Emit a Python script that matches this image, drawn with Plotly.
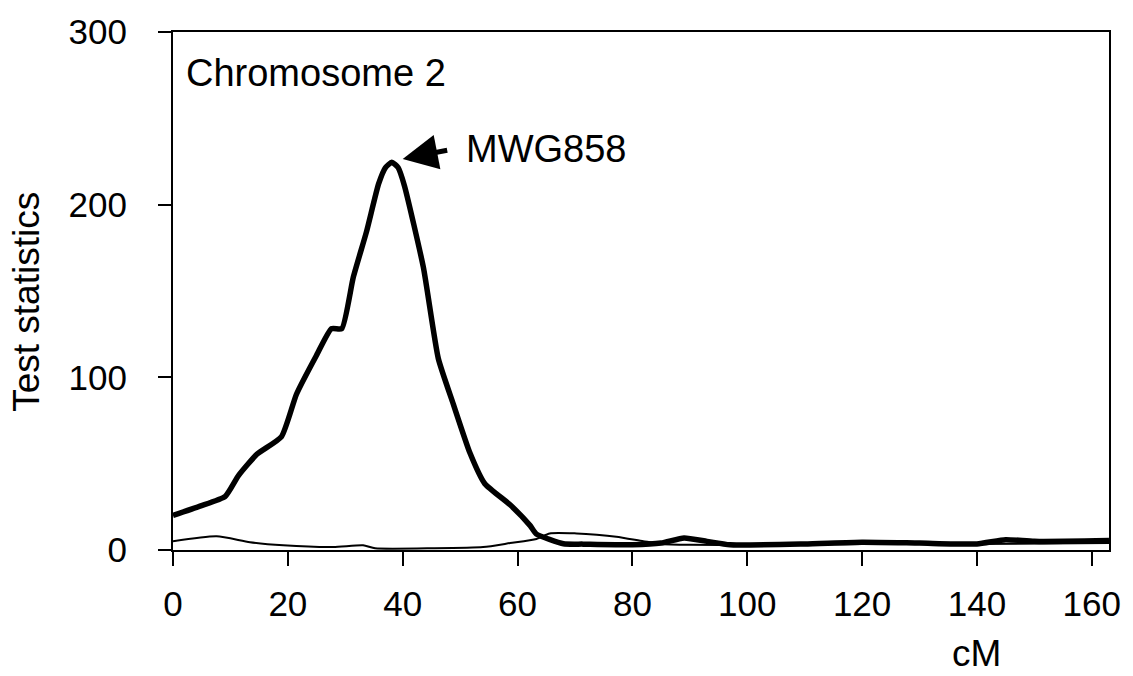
import plotly.graph_objects as go

# Thick curve (main test statistic)
cm_thick = [0, 4.7, 9.1, 11.4, 14.6, 18.9, 21.5, 25.0, 27.6, 29.4, 31.4, 33.7, 35.8, 37.0, 38.1, 39.2,
            40.3, 43.6, 46.2, 48.8, 51.7, 54.3, 58.7, 62.2, 63.3, 68.0, 71.4, 80, 85, 89, 93, 97,
            110, 120, 130, 140, 145, 150, 163]
ts_thick = [20, 25.4, 31.1, 43.1, 55.4, 65.7, 90.2, 112.8, 128.2, 128.2, 158, 184.4, 212, 221.5, 224.5, 221.5,
            211, 163.7, 110.9, 84.6, 56.3, 38.4, 26.2, 14.1, 9.2, 3.6, 3.4, 3, 4, 7, 5, 3,
            3.5, 4.5, 4, 3.5, 6, 5, 5.5]

# Thin curve
cm_thin = [0, 7.6, 13.4, 19.2, 27.9, 33.1, 35.2, 45.3, 54.0, 58.7, 63.3, 65.6, 70.3, 73.8, 77.2, 81.9,
           85, 90, 100, 120, 140, 163]
ts_thin = [5.1, 7.9, 4.5, 2.7, 1.7, 2.7, 1, 1, 1.7, 4, 6.4, 9.6, 9.6, 8.9, 7.7, 5.1,
           3.5, 3, 3, 3.5, 3.5, 4]

x_ticks = [0, 20, 40, 60, 80, 100, 120, 140, 160]
y_ticks = [0, 100, 200, 300]

FONT = "Arial, Liberation Sans, sans-serif"

fig = go.Figure()
fig.add_trace(go.Scatter(x=cm_thin, y=ts_thin, mode="lines",
                         line=dict(color="black", width=2, shape="spline", smoothing=0.6),
                         showlegend=False, hoverinfo="skip"))
fig.add_trace(go.Scatter(x=cm_thick, y=ts_thick, mode="lines",
                         line=dict(color="black", width=5.5, shape="spline", smoothing=0.5),
                         showlegend=False, hoverinfo="skip"))

fig.update_layout(
    width=1133, height=676,
    margin=dict(l=173, r=23, t=22, b=126),
    paper_bgcolor="white", plot_bgcolor="white",
    font=dict(family=FONT, size=35, color="black"),
    xaxis=dict(range=[0, 163], tickvals=x_ticks, ticktext=[str(v) for v in x_ticks],
               showgrid=False, zeroline=False, showline=True, linecolor="black", linewidth=2,
               mirror=True, ticks="outside", ticklen=14, tickwidth=2, tickcolor="black",
               ticklabelstandoff=8, tickfont=dict(size=35, family=FONT)),
    yaxis=dict(range=[0, 300], tickvals=y_ticks, ticktext=[str(v) for v in y_ticks],
               showgrid=False, zeroline=False, showline=True, linecolor="black", linewidth=2,
               mirror=True, ticks="outside", ticklen=13, tickwidth=2, tickcolor="black",
               ticklabelstandoff=24, tickfont=dict(size=35, family=FONT)),
    showlegend=False,
)

# Y title
fig.add_annotation(text="Test statistics", xref="paper", yref="paper", x=-0.156, y=0.479,
                   textangle=-90, showarrow=False, font=dict(size=37, family=FONT),
                   xanchor="center", yanchor="middle")
# x title
fig.add_annotation(text="cM", xref="x", yref="paper", x=140, y=-0.2, showarrow=False,
                   font=dict(size=37, family=FONT), xanchor="center", yanchor="middle")
# Chromosome label
fig.add_annotation(text="Chromosome 2", xref="paper", yref="paper", x=0.012, y=0.92,
                   showarrow=False, font=dict(size=38, family=FONT),
                   xanchor="left", yanchor="middle")
# Marker label
fig.add_annotation(text="MWG858", xref="x", yref="y", x=50.6, y=232, showarrow=False,
                   font=dict(size=38, family=FONT), xanchor="left", yanchor="middle")
# Arrow
fig.add_annotation(text="", xref="x", yref="y", x=40.0, y=226.5, ax=46, ay=-9,
                   showarrow=True, arrowhead=2, arrowsize=1.4, arrowwidth=5,
                   arrowcolor="black", standoff=0, startstandoff=0)

fig.write_html("out.html")
